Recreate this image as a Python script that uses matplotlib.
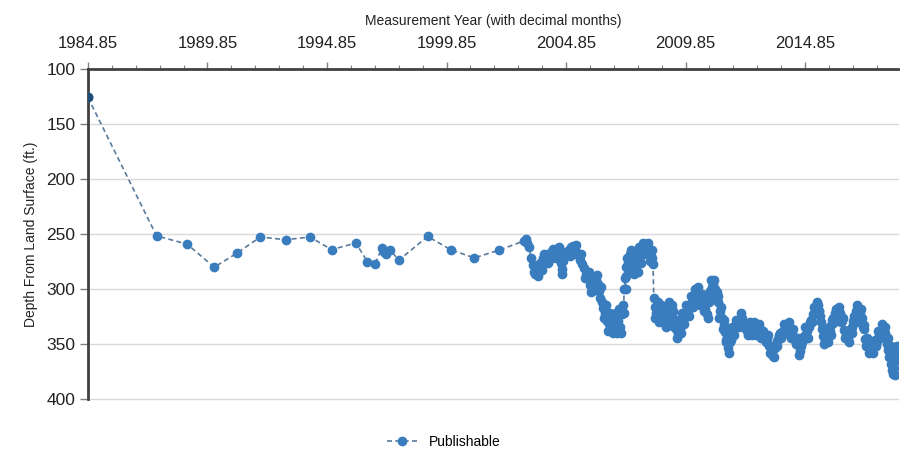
import matplotlib.pyplot as plt
import pandas as pd
from matplotlib.ticker import FixedLocator

# Datos (ano decimal, profundidad en pies)
years = [
    1984.85, 1987.72, 1989.00, 1990.13, 1991.10, 1992.06, 1993.12, 1994.14,
    1995.04, 1996.06, 1996.54, 1996.86, 1997.14, 1997.25, 1997.32, 1997.49,
    1997.86, 1999.06, 2000.02, 2001.01, 2002.05, 2003.10, 2003.18, 2003.22,
    2003.30, 2003.40, 2003.47, 2003.52, 2003.55, 2003.62, 2003.70, 2003.78,
    2003.89, 2003.98, 2004.06, 2004.15, 2004.22, 2004.31, 2004.38, 2004.45,
    2004.52, 2004.60, 2004.65, 2004.68, 2004.74, 2004.82, 2004.89, 2004.96,
    2005.04, 2005.14, 2005.22, 2005.30, 2005.35, 2005.44, 2005.52, 2005.60,
    2005.68, 2005.77, 2005.85, 2005.94, 2006.02, 2006.10, 2006.19, 2006.24,
    2006.27, 2006.34, 2006.40, 2006.48, 2006.57, 2006.65, 2006.72, 2006.77,
    2006.84, 2006.90, 2006.96, 2007.03, 2007.10, 2007.19, 2007.23, 2007.28,
    2007.32, 2007.36, 2007.40, 2007.46, 2007.53, 2007.60, 2007.66, 2007.74,
    2007.82, 2007.90, 2007.95, 2008.05, 2008.12, 2008.24, 2008.32, 2008.40,
    2008.45, 2008.49, 2008.52, 2008.56, 2008.62, 2008.66, 2008.72, 2008.80,
    2008.87, 2008.93, 2008.99, 2009.06, 2009.14, 2009.20, 2009.28, 2009.33,
    2009.40, 2009.47, 2009.54, 2009.60, 2009.68, 2009.75, 2009.84, 2009.92,
    2010.04, 2010.12, 2010.20, 2010.26, 2010.33, 2010.40, 2010.48, 2010.58,
    2010.66, 2010.75, 2010.82, 2010.88, 2010.94, 2011.00, 2011.08, 2011.17,
    2011.22, 2011.29, 2011.36, 2011.44, 2011.50, 2011.56, 2011.63, 2011.70,
    2011.77, 2011.84, 2011.92, 2012.00, 2012.05, 2012.13, 2012.21, 2012.30,
    2012.42, 2012.50, 2012.58, 2012.67, 2012.76, 2012.86, 2012.97, 2013.05,
    2013.14, 2013.26, 2013.34, 2013.42, 2013.51, 2013.58, 2013.66, 2013.72,
    2013.80, 2013.93, 2014.02, 2014.12, 2014.22, 2014.30, 2014.40, 2014.52,
    2014.58, 2014.64, 2014.72, 2014.80, 2014.93, 2015.00, 2015.08, 2015.18,
    2015.26, 2015.33, 2015.39, 2015.45, 2015.52, 2015.56, 2015.62, 2015.69,
    2015.76, 2015.83, 2015.90, 2015.96, 2016.02, 2016.10, 2016.18, 2016.23,
    2016.30, 2016.40, 2016.48, 2016.56, 2016.65, 2016.72, 2016.80, 2016.86,
    2016.94, 2017.00, 2017.07, 2017.15, 2017.23, 2017.30, 2017.36, 2017.43,
    2017.49, 2017.57, 2017.65, 2017.72, 2017.80, 2017.86, 2017.94, 2018.02,
    2018.11, 2018.18, 2018.24, 2018.28, 2018.34, 2018.41, 2018.46, 2018.50,
    2018.53, 2018.58, 2018.62, 2018.66, 2018.70,
]
depth_ft = [
    125.5, 251.5, 259, 280, 267, 252.5, 255, 252.5,
    264, 258, 275, 277.5, 262.5, 266, 268, 264.5,
    273.5, 252, 264, 271.5, 264.5, 256, 254, 258,
    262, 272, 278, 284, 286, 280, 282, 276,
    272, 276, 270, 268, 266, 263, 266, 264,
    270, 268, 276, 282, 274, 270, 268, 264,
    262, 261, 264, 267, 268, 273, 277, 281,
    286, 290, 296, 299, 295, 292, 295, 302,
    308, 312, 317, 322, 329, 332, 327, 336,
    332, 338, 330, 329, 334, 323, 314, 300,
    290, 280, 272, 276, 268, 274, 280, 277,
    268, 272, 265, 268, 262, 261, 266, 270,
    272, 277, 308, 316, 322, 326, 319, 324,
    320, 324, 329, 322, 318, 317, 322, 320,
    328, 336, 341, 335, 331, 329, 323, 320,
    317, 312, 308, 305, 302, 306, 308, 311,
    318, 323, 312, 302, 298, 295, 300, 303,
    312, 320, 326, 333, 339, 346, 354, 348,
    340, 338, 334, 330, 329, 327, 326, 332,
    338, 334, 338, 336, 333, 338, 336, 340,
    343, 345, 352, 357, 361, 354, 347, 345,
    340, 338, 335, 334, 336, 340, 345, 347,
    352, 356, 348, 343, 338, 334, 328, 323,
    318, 315, 314, 320, 330, 336, 343, 347,
    344, 340, 338, 332, 326, 322, 319, 318,
    322, 329, 337, 342, 345, 340, 334, 329,
    324, 320, 318, 322, 326, 333, 345, 348,
    350, 354, 355, 352, 350, 347, 342, 338,
    336, 340, 344, 350, 355, 360, 368, 374,
    377, 372, 365, 360, 357,
]

# Lecturas intermedias (variacion estacional dentro de la banda densa)
years_extra = [
    2003.66, 2003.84, 2003.94, 2004.10, 2004.26, 2004.42, 2004.56, 2004.70,
    2004.78, 2005.00, 2005.18, 2005.26, 2005.48, 2005.64, 2005.80, 2005.90,
    2006.06, 2006.14, 2006.30, 2006.44, 2006.52, 2006.61, 2006.69, 2006.81,
    2006.94, 2007.00, 2007.06, 2007.14, 2007.26, 2007.34, 2007.38, 2007.43,
    2007.50, 2007.56, 2007.63, 2007.70, 2007.78, 2007.86, 2007.92, 2008.00,
    2008.08, 2008.18, 2008.28, 2008.36, 2008.43,
    2008.58, 2008.69, 2008.76, 2008.84, 2008.90, 2008.96, 2009.03, 2009.10,
    2009.17, 2009.24, 2009.30, 2009.37, 2009.44, 2009.50, 2009.57, 2009.64,
    2009.72, 2009.80, 2009.88, 2009.98, 2010.08, 2010.16, 2010.23, 2010.30,
    2010.37, 2010.44, 2010.53, 2010.62, 2010.70, 2010.79, 2010.85, 2010.91,
    2010.97, 2011.04, 2011.12, 2011.20, 2011.26, 2011.33, 2011.40, 2011.47,
    2011.53, 2011.60, 2011.66, 2011.74, 2011.80, 2011.88, 2011.96, 2012.09,
    2012.17, 2012.26, 2012.36, 2012.46, 2012.54, 2012.63, 2012.72, 2012.81,
    2012.92, 2013.01, 2013.10, 2013.20, 2013.30, 2013.38, 2013.47, 2013.55,
    2013.62, 2013.69, 2013.76, 2013.86, 2013.98, 2014.07, 2014.17, 2014.26,
    2014.35, 2014.46, 2014.55, 2014.61, 2014.68, 2014.76, 2014.86, 2014.96,
    2015.04, 2015.13, 2015.22, 2015.30, 2015.36, 2015.42, 2015.48, 2015.59,
    2015.66, 2015.72, 2015.80, 2015.86, 2015.93, 2015.99, 2016.06, 2016.14,
    2016.20, 2016.27, 2016.35, 2016.44, 2016.52, 2016.60, 2016.69, 2016.76,
    2016.83, 2016.90, 2016.97, 2017.04, 2017.11, 2017.19, 2017.27, 2017.33,
    2017.40, 2017.46, 2017.53, 2017.61, 2017.69, 2017.76, 2017.83, 2017.90,
    2017.98, 2018.06, 2018.14, 2018.21, 2018.31, 2018.37, 2018.44, 2018.55,
    2018.60, 2018.68,
]
depth_extra = [
    288, 283, 268, 276, 272, 272, 262, 286,
    266, 270, 268, 260, 268, 290, 284, 303,
    301, 287, 298, 326, 314, 338, 322, 340,
    322, 340, 318, 340, 322, 300, 288, 282,
    282, 264, 268, 286, 270, 284, 262, 276,
    258, 268, 258, 274, 264,
    326, 312, 330, 314, 330, 316, 334, 326,
    312, 328, 314, 334, 328, 344, 330, 340,
    322, 332, 314, 324, 306, 316, 300, 310,
    298, 314, 304, 320, 310, 326, 306, 292,
    304, 292, 308, 306, 326, 316, 336, 328,
    348, 344, 358, 346, 334, 342, 328, 334,
    322, 334, 334, 342, 330, 342, 330, 342,
    332, 344, 338, 348, 342, 358, 354, 362,
    350, 352, 342, 344, 332, 340, 330, 344,
    336, 350, 344, 360, 352, 346, 334, 344,
    330, 330, 316, 322, 312, 320, 324, 336,
    350, 342, 348, 334, 342, 328, 330, 318,
    326, 316, 330, 326, 344, 338, 348, 336,
    340, 324, 330, 314, 324, 318, 334, 336,
    352, 344, 358, 348, 358, 346, 352, 338,
    344, 332, 342, 334, 344, 362, 352, 368,
    378, 352,
]
x_labels = [1984.85, 1989.85, 1994.85, 1999.85, 2004.85, 2009.85, 2014.85]
y_ticks = [100, 150, 200, 250, 300, 350, 400]

data = pd.DataFrame({"Anio": years + years_extra,
                     "Profundidad": depth_ft + depth_extra})
data = data.sort_values("Anio")

plt.rcParams["font.family"] = ["Liberation Sans", "DejaVu Sans"]

fig = plt.figure(figsize=(9.05, 4.5), dpi=100)
ax = fig.add_axes([0.0972, 0.1133, 0.8951, 0.7323])

ax.plot(data["Anio"], data["Profundidad"], color="#5a7a9c", linestyle="--",
        dashes=(3, 2), linewidth=1.2, marker="o", markersize=6,
        markerfacecolor="#3a7dbe", markeredgecolor="#3a7dbe",
        label="Publishable", zorder=3)
ax.plot(years[:1], depth_ft[:1], linestyle="none", marker="o", markersize=6,
        color="#1f4e79", zorder=4)

ax.set_xlim(1984.85, 2018.74)
ax.set_ylim(400, 100)

ax.xaxis.tick_top()
ax.xaxis.set_label_position("top")
ax.xaxis.set_major_locator(FixedLocator(x_labels))
ax.xaxis.set_minor_locator(FixedLocator([1984.85 + i for i in range(34)]))
ax.set_xticklabels([f"{v:.2f}" for v in x_labels])
ax.set_yticks(y_ticks)

ax.tick_params(axis="x", which="major", length=5, width=1, color="#808080",
               labelsize=12, pad=8, labelcolor="#222222")
ax.tick_params(axis="x", which="minor", length=3, width=0.8, color="#808080")
ax.tick_params(axis="y", length=6, width=1, color="#808080", labelsize=12.5,
               pad=3, labelcolor="#222222")

ax.set_xlabel("Measurement Year (with decimal months)", fontsize=10,
              labelpad=8, color="#222222")
ax.set_ylabel("Depth From Land Surface (ft.)", fontsize=10, labelpad=6,
              color="#222222")

for s in ["right", "bottom"]:
    ax.spines[s].set_visible(False)
for s in ["left", "top"]:
    ax.spines[s].set_color("#404040")
    ax.spines[s].set_linewidth(2)

for v in y_ticks[1:]:
    ax.axhline(v, color="#d9d9d9", linewidth=1, zorder=1, clip_on=False)

fig.legend(loc="lower center", bbox_to_anchor=(0.49, -0.025), frameon=False,
           fontsize=10, handlelength=2.2)

fig.savefig("out.png", dpi=100)
